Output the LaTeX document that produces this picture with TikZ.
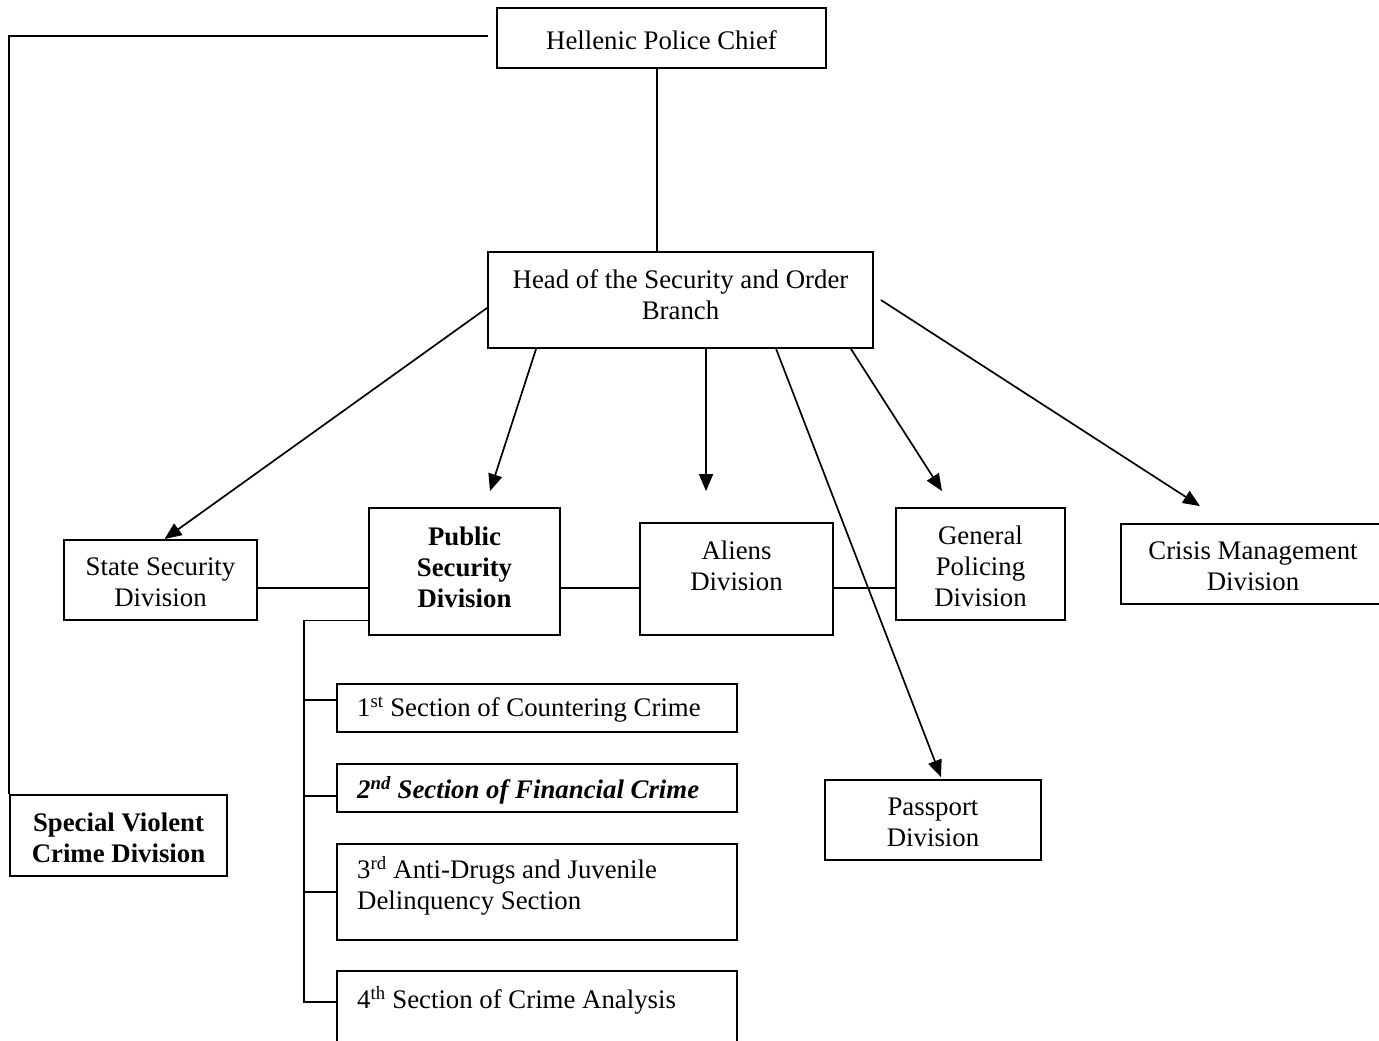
\documentclass[tikz,border=0pt]{standalone}
\usepackage{fontspec}
\setmainfont{Liberation Serif}
\usetikzlibrary{arrows.meta}
\newcommand{\fs}{\fontsize{26.8}{31}\selectfont}
\tikzset{
  box/.style={draw, line width=1.8pt, inner sep=0pt, align=center, font=\fs},
  sect/.style={draw, line width=1.8pt, inner xsep=20pt, inner ysep=0pt, text width=360pt, align=flush left, font=\fs, minimum width=400pt},
  txt/.style={inner sep=0pt, align=center, font=\fs},
  conn/.style={line width=1.7pt},
  arr/.style={line width=1.7pt, -{Triangle[length=17pt,width=14pt]}}
}
\begin{document}
\begin{tikzpicture}[x=1pt,y=-1pt]
\useasboundingbox (0,0) rectangle (1379,1041);
\node[box, minimum width=329pt, minimum height=60pt] (chief) at (661.5,38) {};
\node[txt] (chieftext) at (661.5,40) {Hellenic Police Chief};
\node[box, minimum width=385pt, minimum height=96pt] (head) at (680.5,300) {};
\node[txt] (headtext) at (680.5,295) {Head of the Security and Order\\Branch};
\node[box, minimum width=193pt, minimum height=80pt] (state) at (160.5,580) {};
\node[txt] (statetext) at (160.5,582) {State Security\\Division};
\node[box, minimum width=191pt, minimum height=127pt] (public) at (464.5,571.5) {};
\node[txt, font=\fs\bfseries] (publictext) at (464.5,567) {Public\\Security\\Division};
\node[box, minimum width=193pt, minimum height=112pt] (aliens) at (736.5,579) {};
\node[txt] (alienstext) at (736.5,566) {Aliens\\Division};
\node[box, minimum width=169pt, minimum height=112pt] (general) at (980.5,564) {};
\node[txt] (generaltext) at (980.5,566) {General\\Policing\\Division};
\node[box, minimum width=264pt, minimum height=80pt] (crisisbox) at (1253,564) {};
\node[txt] (crisis) at (1253,566) {Crisis Management\\Division};
\node[box, minimum width=216pt, minimum height=80pt] (passport) at (933,820) {};
\node[txt] (passporttext) at (933,822) {Passport\\Division};
\node[box, minimum width=217pt, minimum height=81pt] (svc) at (118.5,835.5) {};
\node[txt, font=\fs\bfseries] (svctext) at (118.5,838) {Special Violent\\Crime Division};
\node[sect, minimum height=48pt] (s1) at (537,708) {};
\node[txt, anchor=west] (s1text) at (357,710) {1\textsuperscript{st} Section of Countering Crime};
\node[sect, minimum height=48pt] (s2) at (537,788) {};
\node[txt, anchor=west, font=\fs\bfseries\itshape] (s2text) at (357,790) {2\textsuperscript{nd} Section of Financial Crime};
\node[sect, minimum height=96pt] (s3) at (537,892) {};
\node[txt, anchor=west, align=left] (s3text) at (357,886) {3\textsuperscript{rd} Anti-Drugs and Juvenile\\Delinquency Section};
\node[sect, minimum height=96pt] (s4) at (537,1019) {};
\node[txt, anchor=west] (s4text) at (357,1000) {4\textsuperscript{th} Section of Crime Analysis};
% chief links
\draw[conn] ([xshift=-4.5pt]chief.south) -- ([xshift=-4.5pt]chief.south |- head.north);
\draw[conn] ([xshift=-8pt,yshift=2pt]chief.west) -| (svc.north west);
% arrows from head
\draw[arr] ([yshift=41pt]head.south west) -- ([xshift=4pt]state.north);
\draw[arr] ([xshift=49pt]head.south west) -- ([xshift=25.5pt,yshift=16pt]public.north);
\draw[arr] ([xshift=-30.5pt]aliens.north |- head.south) -- ([xshift=-30.5pt,yshift=31pt]aliens.north);
\draw[arr] ([xshift=289pt]head.south west) -- ([xshift=8pt,yshift=2pt]passport.north);
\draw[arr] ([xshift=-23pt]head.south east) -- ([xshift=-38.5pt,yshift=16pt]general.north);
\draw[arr] ([xshift=7pt]head.east) -- ([xshift=-53pt,yshift=17pt]crisisbox.north);
% horizontal division links
\draw[conn] ([yshift=-8pt]state.east) -- ([yshift=-8pt]state.east -| public.west);
\draw[conn] ([yshift=-8pt]state.east -| public.east) -- ([yshift=-8pt]state.east -| aliens.west);
\draw[conn] ([yshift=-8pt]state.east -| aliens.east) -- ([yshift=-8pt]state.east -| general.west);
% section tree
\draw[conn] ([yshift=15.5pt]public.south west) -| ([xshift=-32pt,yshift=-32pt]s4.north west) -- ([yshift=-32pt]s4.north west);
\draw[conn] ([xshift=-32pt,yshift=8pt]s1.west) -- ([yshift=8pt]s1.west);
\draw[conn] ([xshift=-32pt,yshift=-8pt]s2.west) -- ([yshift=-8pt]s2.west);
\draw[conn] ([xshift=-32pt]s3.west) -- (s3.west);
\end{tikzpicture}
\end{document}
